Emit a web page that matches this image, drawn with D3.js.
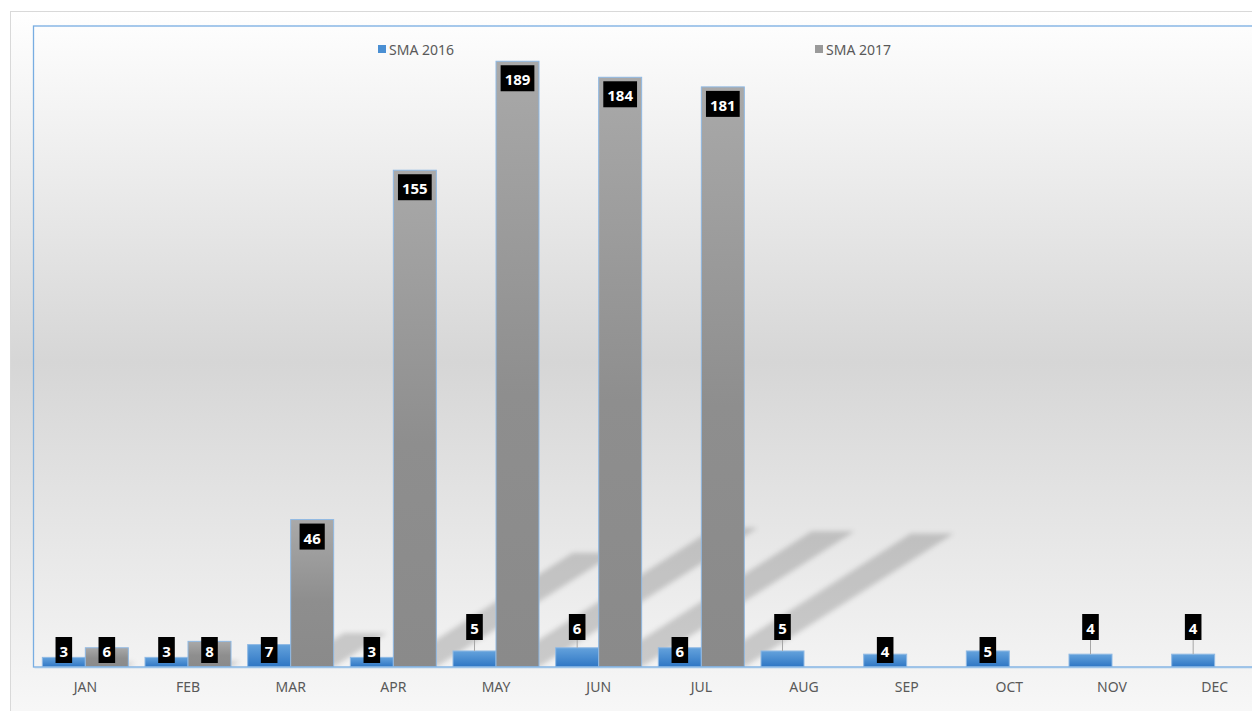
<!DOCTYPE html>
<html>
<head>
<meta charset="utf-8">
<script src="https://cdn.jsdelivr.net/npm/d3@7/dist/d3.min.js"></script>
<style>
  html, body { margin: 0; padding: 0; background: #fff; overflow: hidden; }
  svg { display: block; }
</style>
</head>
<body>
<div id="chart"></div>
<script>
// data
const months = ["JAN", "FEB", "MAR", "APR", "MAY", "JUN", "JUL", "AUG", "SEP", "OCT", "NOV", "DEC"];
const seriesNames = ["SMA 2016", "SMA 2017"];
const sma2016 = [3, 3, 7, 3, 5, 6, 6, 5, 4, 5, 4, 4];
const sma2017 = [6, 8, 46, 155, 189, 184, 181, null, null, null, null, null];

const width = 1252;
const height = 711;
const plot = { left: 34, top: 26, right: 1266, bottom: 667 };

const svg = d3
  .select("#chart")
  .append("svg")
  .attr("width", width)
  .attr("height", height);

const defs = svg.append("defs");

// chart area background: white -> grey -> white
const bg = defs
  .append("linearGradient")
  .attr("id", "bg")
  .attr("x1", 0).attr("y1", 0).attr("x2", 0).attr("y2", 1);
bg.append("stop").attr("offset", "0%").attr("stop-color", "#ffffff");
bg.append("stop").attr("offset", "48%").attr("stop-color", "#d6d6d6");
bg.append("stop").attr("offset", "100%").attr("stop-color", "#fafafa");

const blueGrad = defs
  .append("linearGradient")
  .attr("id", "blue")
  .attr("x1", 0).attr("y1", 0).attr("x2", 0).attr("y2", 1);
blueGrad.append("stop").attr("offset", "0%").attr("stop-color", "#64a2dc");
blueGrad.append("stop").attr("offset", "100%").attr("stop-color", "#2e76c4");

const greyGrad = defs
  .append("linearGradient")
  .attr("id", "grey")
  .attr("x1", 0).attr("y1", 0).attr("x2", 0).attr("y2", 1);
greyGrad.append("stop").attr("offset", "0%").attr("stop-color", "#a9a9a9");
greyGrad.append("stop").attr("offset", "55%").attr("stop-color", "#8e8e8e");
greyGrad.append("stop").attr("offset", "100%").attr("stop-color", "#8a8a8a");

defs
  .append("filter")
  .attr("id", "blur")
  .attr("x", "-20%").attr("y", "-20%").attr("width", "140%").attr("height", "140%")
  .append("feGaussianBlur")
  .attr("stdDeviation", 2.5);

defs
  .append("clipPath")
  .attr("id", "plotClip")
  .append("rect")
  .attr("x", plot.left)
  .attr("y", plot.top)
  .attr("width", plot.right - plot.left)
  .attr("height", plot.bottom - plot.top);

svg
  .append("rect")
  .attr("x", 10.5)
  .attr("y", 11.5)
  .attr("width", 1270)
  .attr("height", 730)
  .attr("fill", "url(#bg)")
  .attr("stroke", "#d9d9d9");

// scales
const x = d3.scaleBand().domain(months).range([plot.left, plot.right]);
const barW = 43;
const xs = d3
  .scaleBand()
  .domain(seriesNames)
  .range([x.bandwidth() / 2 - barW, x.bandwidth() / 2 + barW]);
const y = d3.scaleLinear().domain([0, 200]).range([plot.bottom, plot.top]);

const rows = months.map((m, i) => ({ month: m, v2016: sma2016[i], v2017: sma2017[i] }));

// shadows cast by the 2017 bars
const shadowG = svg
  .append("g")
  .attr("clip-path", "url(#plotClip)")
  .append("g")
  .attr("filter", "url(#blur)");

rows
  .filter((d) => d.v2017 != null)
  .forEach((d) => {
    const x0 = x(d.month) + xs("SMA 2017");
    const x1 = x0 + barW;
    const h = y(0) - y(d.v2017);
    const s = h * 0.23;
    const dx = s * 1.57;
    shadowG
      .append("path")
      .attr(
        "d",
        `M${x0},${y(0)} L${x1},${y(0)} L${x1 + dx},${y(0) - s} L${x0 + dx},${y(0) - s} Z`
      )
      .attr("fill", "#000")
      .attr("fill-opacity", 0.17);
  });

// bars
const bars = [
  { key: "v2016", name: "SMA 2016", fill: "url(#blue)" },
  { key: "v2017", name: "SMA 2017", fill: "url(#grey)" },
];

bars.forEach(({ key, name, fill }) => {
  svg
    .append("g")
    .selectAll("rect")
    .data(rows.filter((d) => d[key] != null))
    .enter()
    .append("rect")
    .attr("x", (d) => x(d.month) + xs(name))
    .attr("y", (d) => y(d[key]))
    .attr("width", barW)
    .attr("height", (d) => y(0) - y(d[key]))
    .attr("fill", fill)
    .attr("stroke", "#8fb9e4")
    .attr("stroke-width", 1);
});

// plot area frame
svg
  .append("rect")
  .attr("x", plot.left - 0.5)
  .attr("y", plot.top)
  .attr("width", plot.right - plot.left + 1)
  .attr("height", plot.bottom - plot.top)
  .attr("fill", "none")
  .attr("stroke", "#78ade2")
  .attr("stroke-width", 1.3);

// x axis
const xAxis = svg
  .append("g")
  .attr("transform", `translate(0, ${plot.bottom})`)
  .call(d3.axisBottom(x).tickSize(0).tickPadding(15));
xAxis.select(".domain").attr("stroke", "#9cc3e8").attr("stroke-width", 1.5);
xAxis
  .selectAll("text")
  .attr("fill", "#595959")
  .style("font-family", "'Noto Sans', sans-serif")
  .style("font-size", "14px");

// data labels (black boxes)
const raised2016 = ["MAY", "JUN", "AUG", "NOV", "DEC"];
const boxH = 26;
const labelG = svg.append("g");

function addLabel(cx, value, raised) {
  const top = y(value);
  const tall = y(0) - top > 30;
  let boxTop;
  if (tall) boxTop = top + 4;
  else if (raised) boxTop = y(0) - 53;
  else boxTop = y(0) - 4 - boxH;

  if (raised) {
    labelG
      .append("line")
      .attr("x1", cx)
      .attr("x2", cx)
      .attr("y1", boxTop + boxH)
      .attr("y2", top)
      .attr("stroke", "#a6a6a6")
      .attr("stroke-width", 1);
  }

  const g = labelG.append("g");
  const rect = g.append("rect").attr("fill", "#000");
  const t = g
    .append("text")
    .attr("x", cx)
    .attr("y", boxTop + boxH / 2 + 1)
    .attr("text-anchor", "middle")
    .attr("dominant-baseline", "central")
    .attr("fill", "#fff")
    .style("font-family", "'Noto Sans', sans-serif")
    .style("font-weight", "bold")
    .style("font-size", "15px")
    .text(value);
  const w = t.node().getComputedTextLength() + 8;
  rect
    .attr("x", cx - w / 2)
    .attr("y", boxTop)
    .attr("width", w)
    .attr("height", boxH);
}

rows.forEach((d) => {
  addLabel(x(d.month) + xs("SMA 2016") + barW / 2, d.v2016, raised2016.includes(d.month));
  if (d.v2017 != null) {
    addLabel(x(d.month) + xs("SMA 2017") + barW / 2, d.v2017, false);
  }
});

// legend
const legendX = d3.scalePoint().domain(seriesNames).range([378, 815]);
const legendColors = { "SMA 2016": "#4a8fd3", "SMA 2017": "#9a9a9a" };

seriesNames.forEach((name) => {
  const g = svg.append("g").attr("transform", `translate(${legendX(name)}, 49)`);
  g.append("rect")
    .attr("x", 0)
    .attr("y", -4)
    .attr("width", 8)
    .attr("height", 8)
    .attr("fill", legendColors[name]);
  g.append("text")
    .attr("x", 11)
    .attr("y", 0)
    .attr("dominant-baseline", "central")
    .attr("fill", "#595959")
    .style("font-family", "'Noto Sans', sans-serif")
    .style("font-size", "14px")
    .text(name);
});
</script>
</body>
</html>
